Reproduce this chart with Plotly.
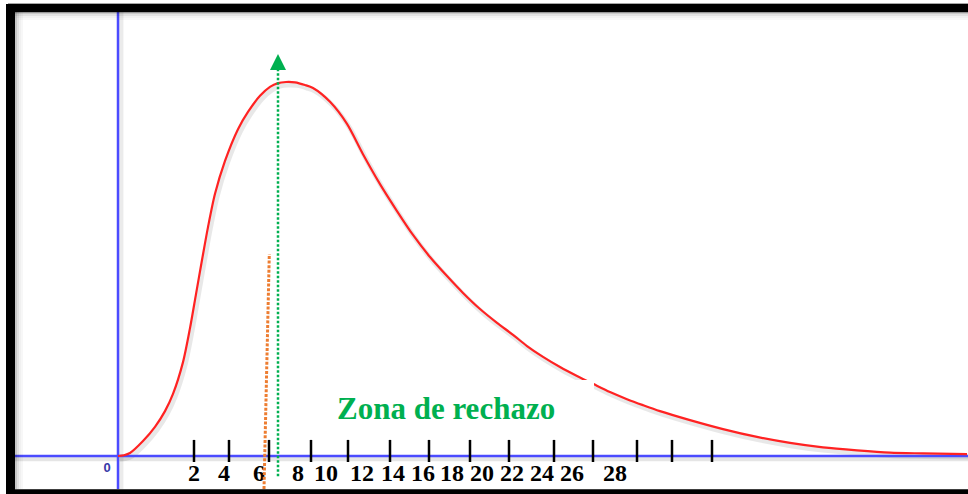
import plotly.graph_objects as go

# ---- data -----------------------------------------------------------------
# density curve (x in chi-square units, y density)
curve_x = [0.0, 0.3, 0.6, 1.25, 1.85, 2.35, 2.75, 3.25, 3.6, 3.9, 4.2, 4.5, 4.85, 5.35,
           6.0, 6.5, 7.1, 7.6, 8.0, 8.4, 8.85, 9.35, 9.75, 10.6, 11.45, 12.25, 13.1,
           13.95, 14.75, 15.6, 16.45, 17.25, 18.1, 18.95, 19.75, 20.45, 21.25, 22.1,
           22.95, 23.75, 24.6, 25.45, 26.25, 27.1, 28.6, 30.25, 31.95, 33.6, 35.25,
           36.95, 38.6, 40.25, 42.45]
curve_y = [0.0, 0.0002, 0.0008, 0.0040, 0.0078, 0.0120, 0.0166, 0.0251, 0.0342, 0.0433,
           0.0524, 0.0612, 0.0701, 0.0789, 0.0874, 0.0920, 0.0963, 0.0987, 0.0997,
           0.1000, 0.0999, 0.0992, 0.0984, 0.0947, 0.0888, 0.0807, 0.0727, 0.0655,
           0.0591, 0.0532, 0.0481, 0.0436, 0.0393, 0.0356, 0.0324, 0.0294, 0.0265,
           0.0238, 0.0214, 0.0193, 0.0171, 0.0152, 0.0136, 0.0120, 0.0096, 0.0072,
           0.0051, 0.0035, 0.0023, 0.0015, 0.0009, 0.0007, 0.0005]

# tick marks drawn on the horizontal axis
tick_x = [3.8, 5.55, 7.55, 9.65, 11.5, 13.6, 15.55, 17.6, 19.55, 21.8, 23.75,
          25.95, 27.7, 29.7]
tick_top = 0.0043
tick_bottom = -0.0016

# tick labels (as placed in the picture)
label_text = ["2", "4", "6", "8", "10", "12", "14", "16", "18", "20", "22", "24", "26", "28"]
label_x = [3.8, 5.3, 7.05, 9.0, 10.4, 12.2, 13.75, 15.25, 16.7, 18.2, 19.7, 21.2, 22.7, 24.85]
label_y = -0.0051

origin_label_x = -0.55
origin_label_y = -0.0034

# green statistic arrow and orange critical line
stat_x = 8.0
stat_y = [-0.0054, 0.1040]
arrow_tip_y = 0.1075
crit_x = [7.3, 7.565]
crit_y = [-0.0088, 0.0540]

# rejection-zone text
zone_text = "Zona de rechazo"
zone_x = 16.4
zone_y = 0.0126
zone_box_x = [11.0, 23.8]
zone_box_y = [0.0056, 0.0203]

# axes extents
x_range = [-5.9, 42.5]
y_range = [-0.01016, 0.12193]
haxis_x = [-5.15, 42.5]
vaxis_y = [-0.0088, 0.1187]

BLUE = "#4b4bff"
RED = "#ff2222"
GREEN = "#00b050"
ORANGE = "#ed7d31"

fig = go.Figure()

# shadows
fig.add_trace(go.Scatter(x=haxis_x, y=[-0.0006, -0.0006], mode="lines",
                         line=dict(color="rgba(0,0,0,0.10)", width=6), hoverinfo="skip"))
fig.add_trace(go.Scatter(x=[0.12, 0.12], y=vaxis_y, mode="lines",
                         line=dict(color="rgba(0,0,0,0.08)", width=6), hoverinfo="skip"))
fig.add_trace(go.Scatter(x=[v + 0.1 for v in curve_x], y=[v - 0.0008 for v in curve_y],
                         mode="lines", line=dict(color="rgba(0,0,0,0.09)", width=5,
                                                 shape="spline", smoothing=0.8),
                         hoverinfo="skip"))

# axes
fig.add_trace(go.Scatter(x=haxis_x, y=[0, 0], mode="lines",
                         line=dict(color=BLUE, width=2.5), hoverinfo="skip"))
fig.add_trace(go.Scatter(x=[0, 0], y=vaxis_y, mode="lines",
                         line=dict(color=BLUE, width=2.5), hoverinfo="skip"))

# curve
fig.add_trace(go.Scatter(x=curve_x, y=curve_y, mode="lines",
                         line=dict(color=RED, width=2.2, shape="spline", smoothing=0.8)))

# tick marks
tx, ty = [], []
for t in tick_x:
    tx += [t, t, None]
    ty += [tick_bottom, tick_top, None]
fig.add_trace(go.Scatter(x=tx, y=ty, mode="lines", line=dict(color="black", width=2.5),
                         hoverinfo="skip"))

# tick labels
fig.add_trace(go.Scatter(x=label_x, y=[label_y] * len(label_x), mode="text",
                         text=["<b>%s</b>" % s for s in label_text],
                         textposition="middle center",
                         textfont=dict(family="Liberation Serif, Times New Roman, serif",
                                       size=24, color="black")))
fig.add_trace(go.Scatter(x=[origin_label_x], y=[origin_label_y], mode="text",
                         text=["<b>0</b>"], textposition="middle center",
                         textfont=dict(family="Liberation Sans, Arial, sans-serif",
                                       size=13, color="#3838a8")))

# orange critical line
fig.add_trace(go.Scatter(x=crit_x, y=crit_y, mode="lines",
                         line=dict(color=ORANGE, width=3, dash="3px,1.6px")))
# green statistic arrow
fig.add_trace(go.Scatter(x=[stat_x, stat_x], y=stat_y, mode="lines",
                         line=dict(color=GREEN, width=2.5, dash="2.5px,2px")))
fig.add_trace(go.Scatter(x=[stat_x], y=[arrow_tip_y], mode="markers",
                         marker=dict(symbol="arrow-up", size=16, color=GREEN,
                                     line=dict(width=0))))

shapes = []
# white box behind the zone label
shapes.append(dict(type="rect", xref="x", yref="y", x0=zone_box_x[0], x1=zone_box_x[1],
                   y0=zone_box_y[0], y1=zone_box_y[1], fillcolor="white",
                   line=dict(width=0), layer="above"))

# frame (paper coordinates) with inner soft shadow
W, H = 968.0, 494.0
def px_rect(x0, y0, x1, y1, color):
    return dict(type="rect", xref="paper", yref="paper",
                x0=x0 / W, x1=x1 / W, y0=1 - y1 / H, y1=1 - y0 / H,
                fillcolor=color, line=dict(width=0), layer="above")

for i, a in enumerate([0.22, 0.12, 0.06, 0.03]):
    shapes.append(px_rect(15, 12 + 2 * i, W, 14 + 2 * i, "rgba(0,0,0,%s)" % a))
    shapes.append(px_rect(15 + 2 * i, 12, 17 + 2 * i, 489, "rgba(0,0,0,%s)" % a))
shapes.append(px_rect(8, 3, W, 4, "rgba(0,0,0,0.35)"))
shapes.append(px_rect(8, 4, W, 12.3, "black"))
shapes.append(px_rect(6, 4, 15, H, "black"))
shapes.append(px_rect(6, 489.3, W, H, "black"))

fig.update_layout(
    width=968, height=494,
    margin=dict(l=0, r=0, t=0, b=0),
    paper_bgcolor="white", plot_bgcolor="white",
    showlegend=False,
    xaxis=dict(range=x_range, visible=False, fixedrange=True),
    yaxis=dict(range=y_range, visible=False, fixedrange=True),
    shapes=shapes,
    annotations=[dict(x=zone_x, y=zone_y, xref="x", yref="y", text="<b>%s</b>" % zone_text,
                      showarrow=False, xanchor="center", yanchor="middle",
                      font=dict(family="Liberation Serif, Times New Roman, serif",
                                size=31, color=GREEN))],
)

fig.write_html("out.html", config={"displayModeBar": False},
               post_script="document.body.style.margin='0';")
